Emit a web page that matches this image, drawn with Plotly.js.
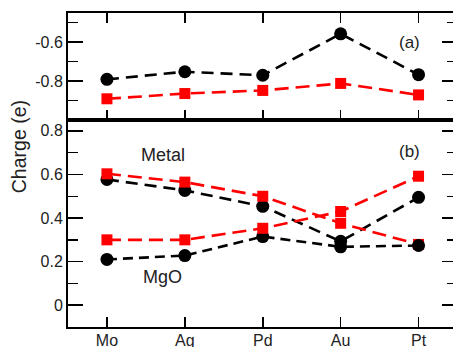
<!DOCTYPE html>
<html><head><meta charset="utf-8">
<script src="https://cdn.plot.ly/plotly-3.0.1.min.js"></script>
<style>html,body{margin:0;padding:0;overflow:hidden;background:#fff;width:453px;height:347px}#chart{width:460px;height:347px}</style>
</head><body><div id="chart"></div>
<script>
const categories = ["Mo", "Ag", "Pd", "Au", "Pt"];
// panel (a)
const topBlack = [-0.791, -0.752, -0.770, -0.557, -0.767];
const topRed   = [-0.891, -0.864, -0.848, -0.812, -0.871];
// panel (b)
const metalBlack = [0.577, 0.527, 0.454, 0.293, 0.495];
const metalRed   = [0.603, 0.565, 0.500, 0.376, 0.279];
const mgoBlack   = [0.210, 0.228, 0.315, 0.268, 0.274];
const mgoRed     = [0.300, 0.300, 0.353, 0.430, 0.592];
const topTickVals = [-0.8, -0.6];
const topTickText = ["-0.8", "-0.6"];
const topMinorVals = [-0.9, -0.7, -0.5];
const botTickVals = [0, 0.2, 0.4, 0.6, 0.8];
const botTickText = ["0", "0.2", "0.4", "0.6", "0.8"];
const botMinorVals = [0.1, 0.3, 0.5, 0.7];

const black = "#000000", red = "#ff0000";
function tr(y, color, sym, xa, ya, dash) {
  return {x: categories, y: y, xaxis: xa, yaxis: ya, type: "scatter", mode: "lines+markers",
    line: {color: color, width: 2.6, dash: dash},
    marker: {color: color, symbol: sym, size: sym === "circle" ? 13 : 11},
    showlegend: false, cliponaxis: false};
}
const data = [
  tr(topBlack, black, "circle", "x2", "y2", "12px,7px"),
  tr(topRed, red, "square", "x2", "y2", "14px,7px"),
  tr(metalBlack, black, "circle", "x", "y", "12px,7px"),
  tr(metalRed, red, "square", "x", "y", "14px,7px"),
  tr(mgoBlack, black, "circle", "x", "y", "10px,6px"),
  tr(mgoRed, red, "square", "x", "y", "14px,7px")
];
const ff = "Liberation Sans, Arial, sans-serif";
const tickFont = {family: ff, size: 16, color: "#222"};
const titleFont = {family: ff, size: 19.5, color: "#222"};
const annFont = {family: ff, size: 18, color: "#222"};
const panFont = {family: ff, size: 17, color: "#222"};
const split = (327 - 120) / 314;
const xr = [-0.5, -0.5 + 389 / 77.9];
const layout = {
  width: 460, height: 347,
  margin: {l: 68, r: 3, t: 13, b: 20},
  paper_bgcolor: "#fff", plot_bgcolor: "#fff",
  font: tickFont,
  xaxis: {domain: [0, 1], anchor: "y", type: "category", range: xr, showgrid: false, zeroline: false,
    showline: true, linecolor: "#000", linewidth: 2, mirror: true, ticklabelstandoff: -2,
    ticks: "inside", ticklen: 10, tickwidth: 1.5, tickcolor: "#000", tickfont: tickFont, automargin: false},
  yaxis: {domain: [0, split], anchor: "x", range: [-0.1, 0.85], showgrid: false, zeroline: false,
    showline: true, linecolor: "#000", linewidth: 2, mirror: "ticks",
    tickmode: "array", tickvals: botTickVals, ticktext: botTickText,
    ticks: "inside", ticklen: 15, tickwidth: 1.5, tickcolor: "#000", tickfont: tickFont, automargin: false,
    minor: {tickmode: "array", tickvals: botMinorVals, ticks: "inside", ticklen: 10, tickwidth: 1.5, tickcolor: "#000", showgrid: false}},
  xaxis2: {domain: [0, 1], anchor: "y2", type: "category", range: xr, showgrid: false, zeroline: false,
    showline: true, linecolor: "#000", linewidth: 2, mirror: "ticks", showticklabels: false,
    ticks: "inside", ticklen: 10, tickwidth: 1.5, tickcolor: "#000", automargin: false},
  yaxis2: {domain: [split, 1], anchor: "x2", range: [-1.0, -0.45], showgrid: false, zeroline: false,
    showline: true, linecolor: "#000", linewidth: 2, mirror: "ticks",
    tickmode: "array", tickvals: topTickVals, ticktext: topTickText,
    ticks: "inside", ticklen: 15, tickwidth: 1.5, tickcolor: "#000", tickfont: tickFont, automargin: false,
    minor: {tickmode: "array", tickvals: topMinorVals, ticks: "inside", ticklen: 10, tickwidth: 1.5, tickcolor: "#000", showgrid: false}},
  annotations: [
    {text: "Charge (e)", xref: "paper", yref: "paper", x: -0.124, y: 0.575, textangle: -90, showarrow: false, font: titleFont, xanchor: "center", yanchor: "middle"},
    {text: "(a)", xref: "x2", yref: "y2", x: 3.88, y: -0.6, showarrow: false, font: panFont},
    {text: "(b)", xref: "x", yref: "y", x: 3.88, y: 0.704, showarrow: false, font: panFont},
    {text: "Metal", xref: "x", yref: "y", x: 0.72, y: 0.69, showarrow: false, font: annFont},
    {text: "MgO", xref: "x", yref: "y", x: 0.71, y: 0.13, showarrow: false, font: annFont}
  ]
};
Plotly.newPlot("chart", data, layout, {displayModeBar: false, staticPlot: true});
</script></body></html>
